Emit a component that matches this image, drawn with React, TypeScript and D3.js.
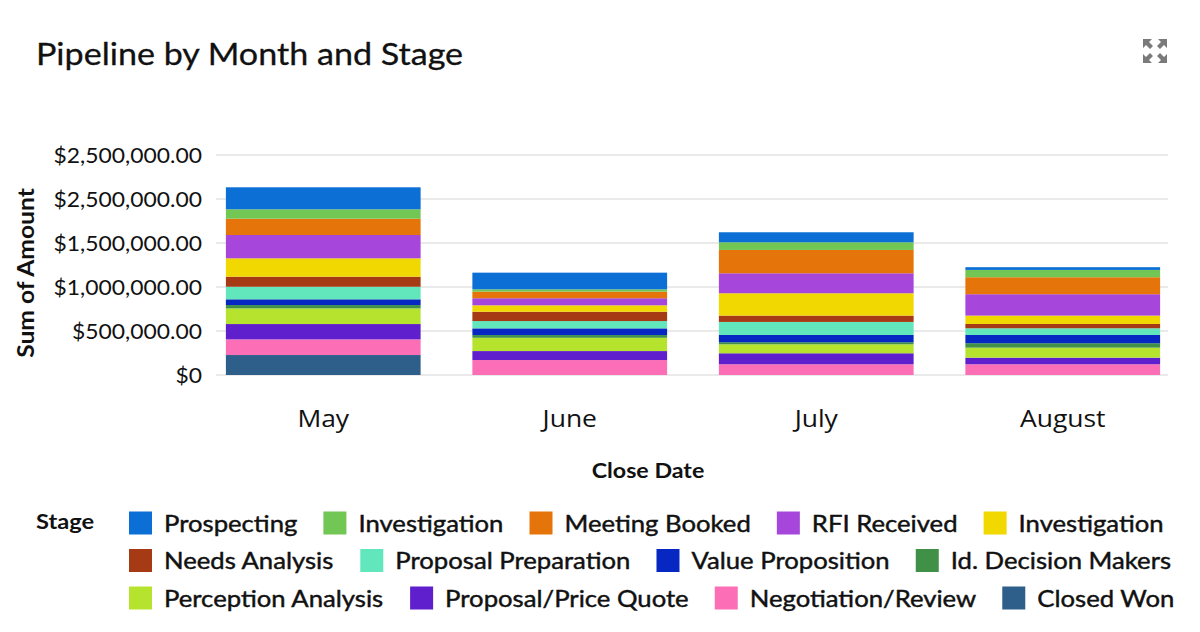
import React, { useEffect } from 'react';
import * as d3 from 'd3';

const months = ['May', 'June', 'July', 'August'];

// stage ids (bottom of the stack first), names and colours
const stageIds = ['closedWon', 'negotiation', 'priceQuote', 'perception', 'decisionMakers', 'valueProp', 'proposalPrep', 'needsAnalysis', 'investigation2', 'rfi', 'meetingBooked', 'investigation1', 'prospecting'];
const stageNames: Record<string, string> = {
  prospecting: 'Prospecting',
  investigation1: 'Investigation',
  meetingBooked: 'Meeting Booked',
  rfi: 'RFI Received',
  investigation2: 'Investigation',
  needsAnalysis: 'Needs Analysis',
  proposalPrep: 'Proposal Preparation',
  valueProp: 'Value Proposition',
  decisionMakers: 'Id. Decision Makers',
  perception: 'Perception Analysis',
  priceQuote: 'Proposal/Price Quote',
  negotiation: 'Negotiation/Review',
  closedWon: 'Closed Won',
};
const stageColors: Record<string, string> = {
  prospecting: '#0b6fd6',
  investigation1: '#72c653',
  meetingBooked: '#e5740a',
  rfi: '#a646db',
  investigation2: '#f0d800',
  needsAnalysis: '#a63a14',
  proposalPrep: '#62e6bc',
  valueProp: '#0727c2',
  decisionMakers: '#409147',
  perception: '#b5e32e',
  priceQuote: '#5f1fcc',
  negotiation: '#fc6fb7',
  closedWon: '#2e5f8a',
};
// legend order
const legendOrder = ['prospecting', 'investigation1', 'meetingBooked', 'rfi', 'investigation2', 'needsAnalysis', 'proposalPrep', 'valueProp', 'decisionMakers', 'perception', 'priceQuote', 'negotiation', 'closedWon'];

// amounts per month: May, June, July, August
const prospecting = [250000, 189000, 114000, 31000];
const investigation1 = [107000, 27000, 87000, 83000];
const meetingBooked = [185000, 75000, 265000, 193000];
const rfi = [265000, 80000, 227000, 243000];
const investigation2 = [209000, 73000, 254000, 95000];
const needsAnalysis = [114000, 106000, 72000, 49000];
const proposalPrep = [143000, 83000, 148000, 76000];
const valueProp = [65000, 76000, 83000, 94000];
const decisionMakers = [38000, 31000, 23000, 50000];
const perception = [178000, 151000, 102000, 114000];
const priceQuote = [174000, 102000, 125000, 75000];
const negotiation = [178000, 170000, 122000, 122000];
const closedWon = [227000, 0, 0, 0];

const yTicks = [0, 500000, 1000000, 1500000, 2000000, 2500000];
const yTickLabels = ['$0', '$500,000.00', '$1,000,000.00', '$1,500,000.00', '$2,500,000.00', '$2,500,000.00'];

const seriesById: Record<string, number[]> = {
  prospecting, investigation1, meetingBooked, rfi, investigation2, needsAnalysis,
  proposalPrep, valueProp, decisionMakers, perception, priceQuote, negotiation, closedWon,
};

const FONT = 'Lato, "Open Sans", sans-serif';
const INK = '#111';

function measure(text: string, font: string) {
  const c = document.createElement('canvas').getContext('2d');
  if (!c) return text.length * 12;
  c.font = font;
  return c.measureText(text).width;
}

// text that is a little wider than the font draws it
function SText({ x, y, sx = 1, rotate = 0, children, ...rest }: any) {
  return (
    <text transform={`translate(${x},${y}) rotate(${rotate}) scale(${sx},1)`} fill={INK} {...rest}>
      {children}
    </text>
  );
}

export default function App() {
  useEffect(() => {
    document.body.style.margin = '0';
  }, []);

  const width = 1200;
  const height = 632;

  const rows = months.map((m, i) => {
    const r: Record<string, any> = { month: m };
    stageIds.forEach((id) => (r[id] = seriesById[id][i]));
    return r;
  });
  const stacked = d3.stack<any>().keys(stageIds)(rows);

  const x = d3.scaleBand<string>().domain(months).range([200, 1186]).paddingInner(0.21).paddingOuter(0.105);
  const y = d3.scaleLinear().domain([0, 2500000]).range([375, 155]);

  // legend flow layout
  const legendFont = `24px ${FONT}`;
  const legendSx = 1.07;
  const legendItems: { id: string; x: number; row: number }[] = [];
  let lx = 129;
  let row = 0;
  legendOrder.forEach((id) => {
    const w = 23 + 12 + measure(stageNames[id], legendFont) * legendSx;
    if (lx + w > 1190) {
      row += 1;
      lx = 129;
    }
    legendItems.push({ id, x: lx, row });
    lx += w + 26;
  });
  const rowY = (r: number) => 523 + r * 37.5;

  return (
    <svg width={width} height={height} style={{ display: 'block', fontFamily: FONT }}>
      <rect width={width} height={height} fill="#fff" />
      <SText x={36} y={65} sx={1.1} fontSize={31} stroke={INK} strokeWidth={0.3}>Pipeline by Month and Stage</SText>

      {/* expand icon */}
      <g transform="translate(1155,51)" fill="#7a7a7a">
        {[0, 90, 180, 270].map((a) => (
          <path key={a} transform={`rotate(${a})`} d="M-12,-12 L-3,-12 L-6,-9 L-2,-5 L-5,-2 L-9,-6 L-12,-3 Z" />
        ))}
      </g>

      {/* grid */}
      {yTicks.map((t) => (
        <line key={t} x1={216} x2={1168} y1={y(t)} y2={y(t)} stroke="#e3e3e3" strokeWidth={1.5} />
      ))}
      {yTicks.map((t, i) => (
        <SText key={'l' + t} x={202} y={y(t) + 7.5} sx={1.09} textAnchor="end" fontSize={21}>
          {yTickLabels[i]}
        </SText>
      ))}

      {/* bars */}
      {stacked.map((s) => (
        <g key={s.key} fill={stageColors[s.key]}>
          {s.map((d) => (
            <rect
              key={d.data.month}
              x={x(d.data.month)}
              width={x.bandwidth()}
              y={y(d[1])}
              height={Math.max(0, y(d[0]) - y(d[1]))}
            />
          ))}
        </g>
      ))}

      {months.map((m) => (
        <SText key={m} x={(x(m) as number) + x.bandwidth() / 2} y={427} sx={1.15} textAnchor="middle" fontSize={23}
          fontFamily='"Open Sans", sans-serif'>
          {m}
        </SText>
      ))}

      <SText x={648} y={478} sx={1.08} textAnchor="middle" fontSize={21.5} fontWeight="bold">Close Date</SText>
      <SText x={34} y={273} rotate={-90} sx={1.12} textAnchor="middle" fontSize={22} fontWeight="bold">
        Sum of Amount
      </SText>

      {/* legend */}
      <SText x={36} y={rowY(0) + 6} sx={1.1} fontSize={21.5} fontWeight="bold">Stage</SText>
      {legendItems.map((it) => (
        <g key={it.id} transform={`translate(${it.x},${rowY(it.row)})`}>
          <rect x={0} y={-11.5} width={23} height={23} fill={stageColors[it.id]} />
          <SText x={35} y={8.5} sx={legendSx} fontSize={24} stroke={INK} strokeWidth={0.45}>{stageNames[it.id]}</SText>
        </g>
      ))}
    </svg>
  );
}
